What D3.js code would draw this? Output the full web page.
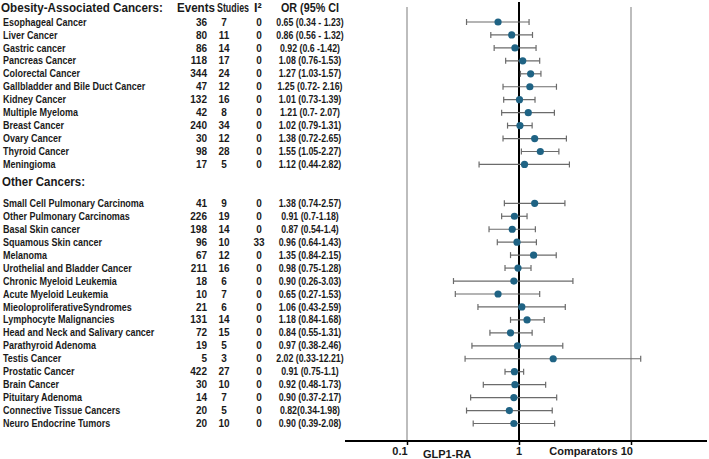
<!DOCTYPE html>
<html>
<head>
<meta charset="utf-8">
<script src="https://cdn.jsdelivr.net/npm/d3@7"></script>
<style>
  html, body { margin: 0; padding: 0; background: #fff; }
  svg { display: block; font-family: "Liberation Sans", Arial, sans-serif; }
</style>
</head>
<body>
<svg id="viz" width="709" height="459"></svg>
<script>
(function () {
  "use strict";

  // Obesity-associated cancers
  const obesityNames = ["Esophageal Cancer", "Liver Cancer", "Gastric cancer", "Pancreas Cancer",
    "Colorectal Cancer", "Gallbladder and Bile Duct  Cancer", "Kidney Cancer", "Multiple Myeloma",
    "Breast Cancer", "Ovary Cancer", "Thyroid Cancer", "Meningioma"];
  const obesityEvents = [36, 80, 86, 118, 344, 47, 132, 42, 240, 30, 98, 17];
  const obesityStudies = [7, 11, 14, 17, 24, 12, 16, 8, 34, 12, 28, 5];
  const obesityI2 = [0, 0, 0, 0, 0, 0, 0, 0, 0, 0, 0, 0];
  const obesityOR = [0.65, 0.86, 0.92, 1.08, 1.27, 1.25, 1.01, 1.21, 1.02, 1.38, 1.55, 1.12];
  const obesityLo = [0.34, 0.56, 0.6, 0.76, 1.03, 0.72, 0.73, 0.7, 0.79, 0.72, 1.05, 0.44];
  const obesityHi = [1.23, 1.32, 1.42, 1.53, 1.57, 2.16, 1.39, 2.07, 1.31, 2.65, 2.27, 2.82];
  const obesityText = ["0.65 (0.34 - 1.23)", "0.86 (0.56 - 1.32)", "0.92 (0.6 -1.42)", "1.08 (0.76-1.53)",
    "1.27 (1.03-1.57)", "1.25 (0.72- 2.16)", "1.01 (0.73-1.39)", "1.21 (0.7- 2.07)",
    "1.02 (0.79-1.31)", "1.38 (0.72-2.65)", "1.55 (1.05-2.27)", "1.12 (0.44-2.82)"];

  // Other cancers
  const otherNames = ["Small Cell Pulmonary Carcinoma", "Other Pulmonary Carcinomas", "Basal Skin cancer",
    "Squamous Skin cancer", "Melanoma", "Urothelial and Bladder Cancer", "Chronic Myeloid Leukemia",
    "Acute Myeloid Leukemia", "MieoloproliferativeSyndromes", "Lymphocyte Malignancies",
    "Head and Neck and Salivary cancer", "Parathyroid Adenoma", "Testis Cancer", "Prostatic Cancer",
    "Brain Cancer", "Pituitary Adenoma", "Connective Tissue Cancers", "Neuro Endocrine Tumors"];
  const otherEvents = [41, 226, 198, 96, 67, 211, 18, 10, 21, 131, 72, 19, 5, 422, 30, 14, 20, 20];
  const otherStudies = [9, 19, 14, 10, 12, 16, 6, 7, 6, 14, 15, 5, 3, 27, 10, 7, 5, 10];
  const otherI2 = [0, 0, 0, 33, 0, 0, 0, 0, 0, 0, 0, 0, 0, 0, 0, 0, 0, 0];
  const otherOR = [1.38, 0.91, 0.87, 0.96, 1.35, 0.98, 0.90, 0.65, 1.06, 1.18, 0.84, 0.97, 2.02, 0.91, 0.92, 0.90, 0.82, 0.90];
  const otherLo = [0.74, 0.7, 0.54, 0.64, 0.84, 0.75, 0.26, 0.27, 0.43, 0.84, 0.55, 0.38, 0.33, 0.75, 0.48, 0.37, 0.34, 0.39];
  const otherHi = [2.57, 1.18, 1.4, 1.43, 2.15, 1.28, 3.03, 1.53, 2.59, 1.68, 1.31, 2.46, 12.21, 1.1, 1.73, 2.17, 1.98, 2.08];
  const otherText = ["1.38 (0.74-2.57)", "0.91 (0.7-1.18)", "0.87 (0.54-1.4)", "0.96 (0.64-1.43)",
    "1.35 (0.84-2.15)", "0.98 (0.75-1.28)", "0.90 (0.26-3.03)", "0.65 (0.27-1.53)", "1.06 (0.43-2.59)",
    "1.18 (0.84-1.68)", "0.84 (0.55-1.31)", "0.97 (0.38-2.46)", "2.02 (0.33-12.21)", "0.91 (0.75-1.1)",
    "0.92 (0.48-1.73)", "0.90 (0.37-2.17)", "0.82(0.34-1.98)", "0.90 (0.39-2.08)"];

  const axisTicks = [0.1, 1, 10];

  /*
  |--------------------------------------------------------------------------
  | Rows
  |--------------------------------------------------------------------------
  */

  const rows = [];
  obesityNames.forEach((n, i) => rows.push({
    name: n, events: obesityEvents[i], studies: obesityStudies[i], i2: obesityI2[i],
    or: obesityOR[i], lo: obesityLo[i], hi: obesityHi[i], text: obesityText[i], idx: i
  }));
  otherNames.forEach((n, i) => rows.push({
    name: n, events: otherEvents[i], studies: otherStudies[i], i2: otherI2[i],
    or: otherOR[i], lo: otherLo[i], hi: otherHi[i], text: otherText[i], idx: i + 14
  }));

  /*
  |--------------------------------------------------------------------------
  | Scales
  |--------------------------------------------------------------------------
  */

  const x = d3.scaleLog().domain([0.1, 10]).range([407, 631]);
  const y = d3.scaleLinear().domain([0, 31]).range([22, 423.5]);
  const axisY = 441;

  const col = { label: 3, events: 207, studies: 224, i2: 259, or: 310 };
  const textColor = "#1a1a1a";
  const dotColor = "#1f6384";

  const svg = d3.select("#viz");

  // squeeze a text horizontally (the reference font is narrow).
  // the text is drawn at 0,0 and placed by transform; anchor decides the fixed point
  function squeeze(sel, k, px, py, anchor) {
    sel.each(function (d, i) {
      const w = this.getComputedTextLength();
      const kk = typeof k === "function" ? k.call(this, w) : k;
      const tx = typeof px === "function" ? px(d, i) : px;
      const ty = typeof py === "function" ? py(d, i) : py;
      const shift = anchor === "middle" ? -w / 2 : anchor === "end" ? -w : 0;
      d3.select(this)
        .attr("text-anchor", "start")
        .attr("transform", `translate(${tx},${ty}) scale(${kk},1) translate(${shift},0)`);
    });
  }

  /*
  |--------------------------------------------------------------------------
  | Plot background lines
  |--------------------------------------------------------------------------
  */

  svg.selectAll(".ref").data([0.1, 10]).enter()
    .append("line")
    .attr("x1", d => x(d)).attr("x2", d => x(d))
    .attr("y1", 7).attr("y2", axisY)
    .attr("stroke", "#bdbdbd").attr("stroke-width", 2);

  svg.append("line")
    .attr("x1", x(1)).attr("x2", x(1))
    .attr("y1", 2).attr("y2", axisY)
    .attr("stroke", "#000").attr("stroke-width", 2);

  // x axis
  const axis = svg.append("g")
    .attr("transform", `translate(0,${axisY})`)
    .call(d3.axisBottom(x).tickValues(axisTicks).tickSize(4).tickFormat(() => ""));
  axis.select(".domain").attr("d", `M345,0H707`).attr("stroke", "#000").attr("stroke-width", 2);
  axis.selectAll(".tick line").attr("stroke", "#000").attr("stroke-width", 1.5);

  const axisLabel = svg.append("g")
    .attr("font-weight", "bold").attr("font-size", 11).attr("fill", textColor);
  axisLabel.append("text").attr("x", x(0.1) - 7).attr("y", 455).attr("text-anchor", "middle").text("0.1");
  axisLabel.append("text").attr("x", x(0.1) + 16).attr("y", 458).text("GLP1-RA");
  axisLabel.append("text").attr("x", x(1)).attr("y", 455).attr("text-anchor", "middle").text("1");
  axisLabel.append("text").attr("x", x(10) + 2).attr("y", 455).attr("text-anchor", "end").text("Comparators 10");

  /*
  |--------------------------------------------------------------------------
  | Error bars and points
  |--------------------------------------------------------------------------
  */

  const marks = svg.append("g").selectAll("g").data(rows).enter()
    .append("g")
    .attr("transform", d => `translate(0,${y(d.idx)})`);

  marks.append("line")
    .attr("x1", d => x(d.lo)).attr("x2", d => x(d.hi))
    .attr("stroke", "#6b6b6b").attr("stroke-width", 1.2);

  marks.selectAll(".cap").data(d => [d.lo, d.hi]).enter()
    .append("line")
    .attr("x1", v => x(v)).attr("x2", v => x(v))
    .attr("y1", -3).attr("y2", 3)
    .attr("stroke", "#6b6b6b").attr("stroke-width", 1.2);

  marks.append("circle")
    .attr("cx", d => x(d.or)).attr("r", 3.6)
    .attr("fill", dotColor);

  /*
  |--------------------------------------------------------------------------
  | Table text
  |--------------------------------------------------------------------------
  */

  const header = svg.append("g")
    .attr("font-size", 12.5).attr("font-weight", "bold").attr("fill", textColor);
  const headerCells = [
    { t: "Obesity-Associated Cancers:", x: 1, y: 12, w: 162 },
    { t: "Events", x: 177, y: 12, w: 38 },
    { t: "Studies", x: 217, y: 12, w: 32 },
    { t: "I²", x: 254, y: 12, w: 8 },
    { t: "OR (95% CI", x: 281, y: 12, w: 58 },
    { t: "Other Cancers:", x: 2, y: y(12.35) + 4.5, w: 83 }
  ];
  headerCells.forEach(c => {
    header.append("text").text(c.t)
      .call(squeeze, w => Math.min(1, c.w / w), c.x, c.y, "start");
  });

  const table = svg.append("g").selectAll("g").data(rows).enter()
    .append("g")
    .attr("transform", d => `translate(0,${y(d.idx) + 3.6})`)
    .attr("font-size", 10).attr("font-weight", "bold").attr("fill", textColor);

  table.append("text").text(d => d.name).call(squeeze, 0.9, col.label, 0, "start");
  table.append("text").attr("x", col.events).attr("text-anchor", "end").text(d => d.events);
  table.append("text").attr("x", col.studies).attr("text-anchor", "middle").text(d => d.studies);
  table.append("text").attr("x", col.i2).attr("text-anchor", "middle").text(d => d.i2);
  table.append("text").text(d => d.text).call(squeeze, 0.88, col.or, 0, "middle");

})();
</script>
</body>
</html>
